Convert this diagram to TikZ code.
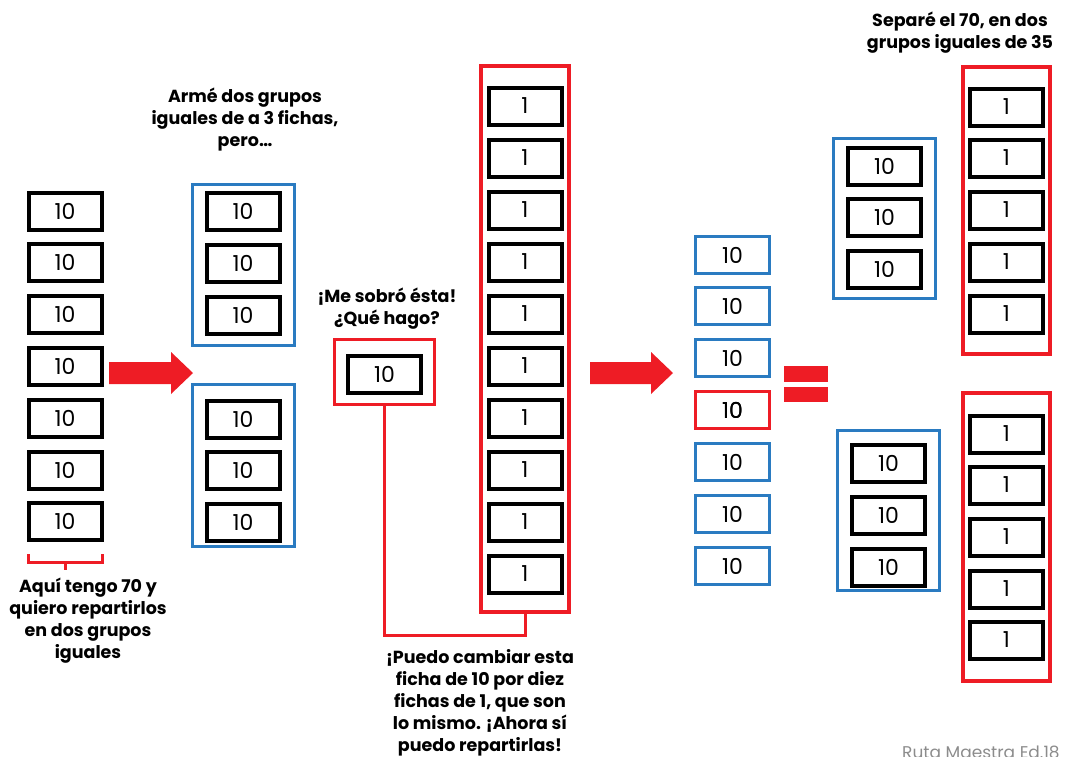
\documentclass[tikz,border=0pt]{standalone}
\usepackage{fontspec}
\setmainfont{Poppins}
\definecolor{myred}{HTML}{EE1C25}
\definecolor{myblue}{HTML}{2A7BC1}
\definecolor{mygray}{HTML}{8C8C8C}
\begin{document}
\begin{tikzpicture}[x=1pt,y=-1pt,
  tenbox/.style={draw=black, line width=4pt, minimum width=73pt, minimum height=37pt, inner sep=0pt, fill=white, font=\fontsize{22}{22}\selectfont},
  midbox/.style={draw=myblue, line width=3.2pt, minimum width=74pt, minimum height=37pt, inner sep=0pt, font=\fontsize{22}{22}\selectfont},
  bluegrp/.style={draw=myblue, line width=3pt, minimum width=102pt, minimum height=160pt, inner sep=0pt},
  redcol/.style={draw=myred, line width=4pt, minimum width=87pt, inner sep=0pt},
  lbl/.style={align=center, font=\fontsize{17.5}{22}\selectfont\bfseries, inner sep=0pt},
  redarrow/.style={fill=myred}
]
\useasboundingbox (0,0) rectangle (1065,756);

% left column
\foreach \y [count=\i] in {211,262,314,366,418,470,521}
  \node[tenbox] (L\i) at (65,\y) {10};

% red bracket
\coordinate (bl) at (28,554);
\coordinate (br) at (102,554);
\coordinate (bm) at (65,570);
\draw[myred, line width=3pt] (bl) -- ++(0,8) -- ++(74,0) -- (br);
\draw[myred, line width=3pt] (65,562) -- (bm);

\node[lbl] (t3) at (88,621) {Aquí tengo 70 y\\quiero repartirlos\\en dos grupos\\iguales};

% arrow 1
\fill[redarrow] (109,362) -- (171,362) -- (171,352) -- (193,373) -- (171,394) -- (171,384) -- (109,384) -- cycle;

% blue groups
\node[lbl] (t1) at (245,120) {Armé dos grupos\\iguales de a 3 fichas,\\pero…};
\node[bluegrp, minimum height=161pt] (BG1) at (243,265) {};
\node[bluegrp, minimum height=162pt] (BG2) at (243,465.5) {};
\foreach \y [count=\i] in {211,263,315}
  \node[tenbox] (A\i) at (243,\y) {10};
\foreach \y [count=\i] in {419,470,522}
  \node[tenbox] (B\i) at (243,\y) {10};

% leftover
\node[lbl] (t2) at (387,309) {¡Me sobró ésta!\\¿Qué hago?};
\node[draw=myred, line width=3pt, minimum width=100pt, minimum height=65pt, inner sep=0pt] (RB) at (384.5,372) {};
\node[tenbox] (T) at (384.5,374) {10};

% big red column
\node[redcol, line width=4pt, minimum width=88pt, minimum height=546pt] (R) at (525,339) {};
\foreach \y [count=\i] in {106,158,210,262,314,366,418,470,522,574}
  \node[tenbox] (U\i) at (525,\y) {1};

\coordinate (cn) at (450,635);
\draw[myred, line width=3pt] (RB.south) |- (cn) -| (R.south);

\node[lbl] (t4) at (480,703) {¡Puedo cambiar esta\\ficha de 10 por diez\\fichas de 1, que son\\lo mismo. ¡Ahora sí\\puedo repartirlas!};

% arrow 2
\fill[redarrow] (590,362) -- (651,362) -- (651,352) -- (673,373) -- (651,394) -- (651,384) -- (590,384) -- cycle;

% middle column
\foreach \y [count=\i] in {255,306,358,410,462,514,566}
  \node[midbox] (M\i) at (732.5,\y) {10};
\node[midbox, draw=myred] at (M4) {10};

% equals
\fill[myred] (784,366) rectangle (828,382);
\fill[myred] (784,387) rectangle (828,402);

% right upper
\node[lbl] (t5) at (960,33) {Separé el 70, en dos\\grupos iguales de 35};
\node[bluegrp] (BG3) at (884.5,218.5) {};
\foreach \y [count=\i] in {166,217,269}
  \node[tenbox] (C\i) at (884.5,\y) {10};
\node[redcol, minimum height=287pt] (R2) at (1006.5,210.5) {};
\foreach \y [count=\i] in {107,158,210,262,314}
  \node[tenbox] (V\i) at (1006.5,\y) {1};

% right lower
\node[bluegrp] (BG4) at (888.5,510.5) {};
\foreach \y [count=\i] in {463,515,567}
  \node[tenbox] (D\i) at (888.5,\y) {10};
\node[redcol, minimum height=288pt] (R3) at (1006.5,536.5) {};
\foreach \y [count=\i] in {434,485,537,589,640}
  \node[tenbox] (W\i) at (1006.5,\y) {1};

% footer
\node[anchor=north west, inner sep=0pt, text=mygray, font=\fontsize{17}{17}\selectfont] (foot) at (902,746) {Ruta Maestra Ed.18};
\end{tikzpicture}
\end{document}
